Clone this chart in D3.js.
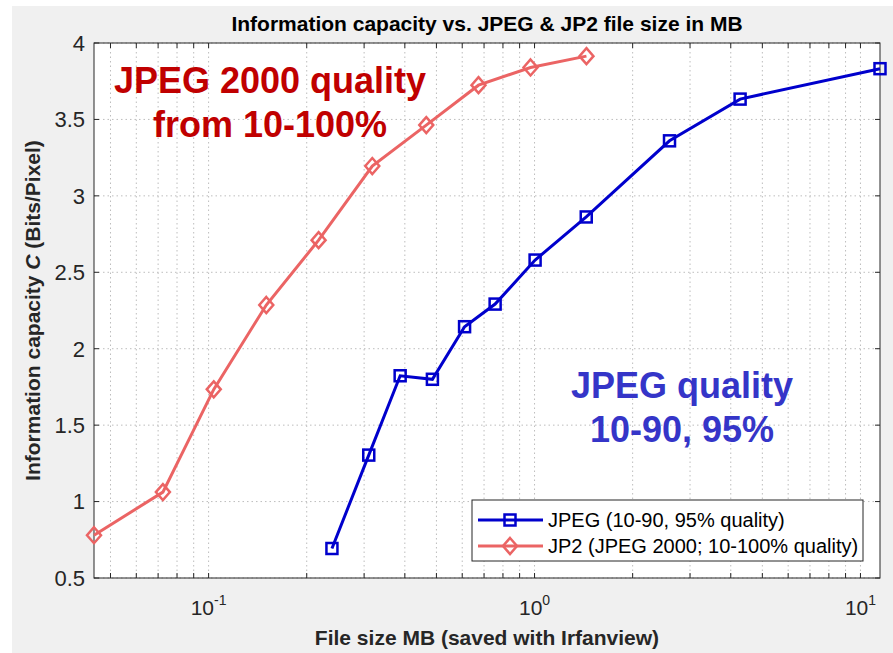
<!DOCTYPE html>
<html>
<head>
<meta charset="utf-8">
<script src="https://cdnjs.cloudflare.com/ajax/libs/d3/7.8.5/d3.min.js"></script>
<style>
  body { margin: 0; background: #ffffff; }
  svg text { font-family: "Liberation Sans", Arial, sans-serif; }
</style>
</head>
<body>
<div id="chart"></div>
<script>
// data
let jpegSize = [0.239, 0.310, 0.387, 0.486, 0.610, 0.757, 1.004, 1.441, 2.595, 4.273, 11.48];
let jpegCap  = [0.693, 1.304, 1.823, 1.800, 2.144, 2.292, 2.580, 2.862, 3.360, 3.633, 3.832];
let jp2Size  = [0.0445, 0.0724, 0.1037, 0.1503, 0.2175, 0.3178, 0.4654, 0.673, 0.972, 1.443];
let jp2Cap   = [0.780, 1.062, 1.734, 2.286, 2.710, 3.195, 3.463, 3.724, 3.840, 3.914];
let yTicks = [0.5, 1, 1.5, 2, 2.5, 3, 3.5, 4];
let xMajor = [0.1, 1, 10];
let xMajorExp = ["-1", "0", "1"];
let legendLabels = ["JPEG (10-90, 95% quality)", "JP2 (JPEG 2000; 10-100% quality)"];

let W = 893, H = 653;
let margin = { top: 43, right: 13, bottom: 75, left: 94 },
    width = W - margin.left - margin.right,
    height = H - margin.top - margin.bottom;

let blue = "#0000cc", red = "#eb6464";

let svg = d3.select("#chart").append("svg")
    .attr("width", W)
    .attr("height", H);

// figure background
svg.append("rect")
    .attr("x", 12).attr("y", 6)
    .attr("width", W - 12).attr("height", H - 6)
    .attr("fill", "#f0f0f0");

let g = svg.append("g")
    .attr("transform", "translate(" + margin.left + "," + margin.top + ")");

let x = d3.scaleLog()
    .domain(d3.extent(jp2Size.concat(jpegSize)))
    .range([0, width]);
let y = d3.scaleLinear()
    .domain([0.5, 4])
    .range([height, 0]);

g.append("rect")
    .attr("width", width).attr("height", height)
    .attr("fill", "#ffffff");

let xAll = x.ticks();

// grid
g.selectAll(".vgrid")
    .data(xAll)
    .enter().append("line")
    .attr("x1", d => x(d)).attr("x2", d => x(d))
    .attr("y1", 0).attr("y2", height)
    .attr("stroke", "#bdbdbd")
    .attr("stroke-width", 1)
    .attr("stroke-dasharray", "1.5,3");
g.selectAll(".hgrid")
    .data(yTicks)
    .enter().append("line")
    .attr("x1", 0).attr("x2", width)
    .attr("y1", d => y(d)).attr("y2", d => y(d))
    .attr("stroke", "#bdbdbd")
    .attr("stroke-width", 1)
    .attr("stroke-dasharray", "1.5,3");

// ticks pointing inward, on all four sides
let tickLen = 5;
g.selectAll(".xtickB")
    .data(xAll)
    .enter().append("line")
    .attr("x1", d => x(d)).attr("x2", d => x(d))
    .attr("y1", height).attr("y2", height - tickLen)
    .attr("stroke", "#262626");
g.selectAll(".xtickT")
    .data(xAll)
    .enter().append("line")
    .attr("x1", d => x(d)).attr("x2", d => x(d))
    .attr("y1", 0).attr("y2", tickLen)
    .attr("stroke", "#262626");
g.selectAll(".ytickL")
    .data(yTicks)
    .enter().append("line")
    .attr("x1", 0).attr("x2", tickLen)
    .attr("y1", d => y(d)).attr("y2", d => y(d))
    .attr("stroke", "#262626");
g.selectAll(".ytickR")
    .data(yTicks)
    .enter().append("line")
    .attr("x1", width).attr("x2", width - tickLen)
    .attr("y1", d => y(d)).attr("y2", d => y(d))
    .attr("stroke", "#262626");

g.append("rect")
    .attr("width", width).attr("height", height)
    .attr("fill", "none")
    .attr("stroke", "#262626")
    .attr("stroke-width", 1);

// tick labels
g.selectAll(".ylab")
    .data(yTicks)
    .enter().append("text")
    .attr("x", -9)
    .attr("y", d => y(d))
    .attr("dy", "0.36em")
    .attr("text-anchor", "end")
    .attr("font-size", 22)
    .attr("fill", "#262626")
    .text(d => d);

let xl = g.selectAll(".xlab")
    .data(xMajor)
    .enter().append("text")
    .attr("x", d => x(d))
    .attr("y", height + 37)
    .attr("text-anchor", "middle")
    .attr("font-size", 21)
    .attr("fill", "#262626");
xl.append("tspan").text("10");
xl.append("tspan")
    .attr("dy", -10)
    .attr("font-size", 14)
    .text((d, i) => xMajorExp[i]);

// series
let jpeg = jpegSize.map((d, i) => ({ x: d, y: jpegCap[i] }));
let jp2 = jp2Size.map((d, i) => ({ x: d, y: jp2Cap[i] }));

let line = d3.line()
    .x(d => x(d.x))
    .y(d => y(d.y));

g.append("path")
    .datum(jp2)
    .attr("fill", "none")
    .attr("stroke", red)
    .attr("stroke-width", 3)
    .attr("d", line);
g.selectAll(".diamond")
    .data(jp2)
    .enter().append("path")
    .attr("transform", d => "translate(" + x(d.x) + "," + y(d.y) + ")")
    .attr("d", "M0,-8L7,0L0,8L-7,0Z")
    .attr("fill", "none")
    .attr("stroke", red)
    .attr("stroke-width", 2.5);

g.append("path")
    .datum(jpeg)
    .attr("fill", "none")
    .attr("stroke", blue)
    .attr("stroke-width", 3)
    .attr("d", line);
g.selectAll(".square")
    .data(jpeg)
    .enter().append("rect")
    .attr("x", d => x(d.x) - 5.5)
    .attr("y", d => y(d.y) - 5.5)
    .attr("width", 11).attr("height", 11)
    .attr("fill", "none")
    .attr("stroke", blue)
    .attr("stroke-width", 2.5);

// annotations
let ann = [
    { t: ["JPEG 2000 quality", "from 10-100%"], cx: 270, y0: 93, c: "#c00000" },
    { t: ["JPEG quality", "10-90, 95%"], cx: 682, y0: 398, c: "#3535c8" }
];
ann.forEach(a => {
    a.t.forEach((s, i) => {
        svg.append("text")
            .attr("x", a.cx)
            .attr("y", a.y0 + i * 44)
            .attr("text-anchor", "middle")
            .attr("font-size", 36)
            .attr("font-weight", "bold")
            .attr("fill", a.c)
            .text(s);
    });
});

// legend
let lg = svg.append("g").attr("transform", "translate(472,500)");
lg.append("rect")
    .attr("width", 391).attr("height", 61)
    .attr("fill", "#ffffff")
    .attr("stroke", "#262626");
[blue, red].forEach((c, i) => {
    let yy = 20 + i * 26;
    lg.append("line")
        .attr("x1", 6).attr("x2", 71)
        .attr("y1", yy).attr("y2", yy)
        .attr("stroke", c).attr("stroke-width", 3);
    if (i == 0) {
        lg.append("rect")
            .attr("x", 38 - 5.5).attr("y", yy - 5.5)
            .attr("width", 11).attr("height", 11)
            .attr("fill", "none").attr("stroke", c).attr("stroke-width", 2.5);
    } else {
        lg.append("path")
            .attr("transform", "translate(38," + yy + ")")
            .attr("d", "M0,-8L7,0L0,8L-7,0Z")
            .attr("fill", "none").attr("stroke", c).attr("stroke-width", 2.5);
    }
    lg.append("text")
        .attr("x", 76).attr("y", yy)
        .attr("dy", "0.36em")
        .attr("font-size", 20)
        .attr("fill", "#000000")
        .text(legendLabels[i]);
});

// titles
svg.append("text")
    .attr("x", margin.left + width / 2)
    .attr("y", 31)
    .attr("text-anchor", "middle")
    .attr("font-size", 21)
    .attr("font-weight", "bold")
    .attr("fill", "#000000")
    .text("Information capacity vs. JPEG & JP2 file size in MB");

svg.append("text")
    .attr("x", margin.left + width / 2)
    .attr("y", 645)
    .attr("text-anchor", "middle")
    .attr("font-size", 21)
    .attr("font-weight", "bold")
    .attr("fill", "#262626")
    .text("File size MB (saved with Irfanview)");

let yt = svg.append("text")
    .attr("transform", "translate(40," + (margin.top + height / 2) + ") rotate(-90)")
    .attr("text-anchor", "middle")
    .attr("font-size", 21)
    .attr("font-weight", "bold")
    .attr("fill", "#262626");
yt.append("tspan").text("Information capacity ");
yt.append("tspan").attr("font-style", "italic").text("C");
yt.append("tspan").text(" (Bits/Pixel)");
</script>
</body>
</html>
